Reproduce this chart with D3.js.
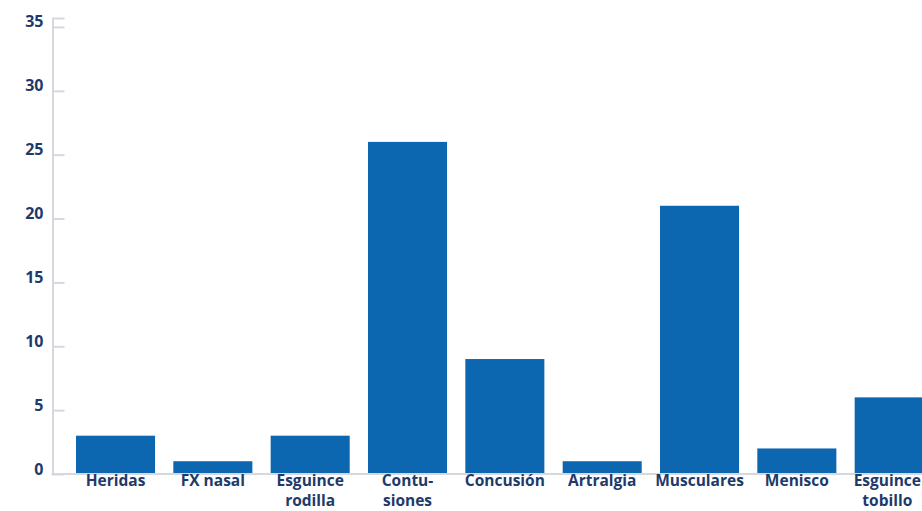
<!DOCTYPE html>
<html>
<head>
<meta charset="utf-8">
<script src="https://cdn.jsdelivr.net/npm/d3@7"></script>
<style>
  html, body { margin: 0; padding: 0; background: #ffffff; overflow: hidden; }
  svg { display: block; }
  text { font-family: "Open Sans", Lato, sans-serif; font-weight: 700; fill: #1d3a6a; }
</style>
</head>
<body>
<svg id="chart" width="922" height="511"></svg>
<script>
// Injury types (line breaks marked with "\n")
const categories = [
  "Heridas",
  "FX nasal",
  "Esguince\nrodilla",
  "Contu-\nsiones",
  "Concusión",
  "Artralgia",
  "Musculares",
  "Menisco",
  "Esguince\ntobillo"
];
// Number of cases per injury type
const cases = [3, 1, 3, 26, 9, 1, 21, 2, 6];
// Y axis tick values
const yTicks = [0, 5, 10, 15, 20, 25, 30, 35];

const width = 922;
const svg = d3.select("#chart");
const barColor = "#0d67b0";
const axisColor = "#d6d8de";
const fontStack = "'Open Sans', Lato, sans-serif";

const y = d3.scaleLinear().domain([0, 35.7]).range([474, 18]);

const x = d3.scaleBand()
  .domain(categories)
  .range([66.85, 942.85])
  .paddingInner(0.188)
  .paddingOuter(0.094);

// Bars
svg.append("g")
  .selectAll("rect")
  .data(categories)
  .join("rect")
  .attr("x", d => x(d))
  .attr("width", x.bandwidth())
  .attr("y", (d, i) => y(cases[i]))
  .attr("height", (d, i) => y(0) - y(cases[i]))
  .attr("fill", barColor);

// Y axis: line on the left, ticks pointing into the plot
const yAxis = svg.append("g")
  .attr("transform", "translate(52.5,0)")
  .call(d3.axisRight(y).tickValues(yTicks).tickSize(12).tickFormat(d3.format("d")));
yAxis.select(".domain").attr("stroke", axisColor).attr("stroke-width", 2);
yAxis.selectAll(".tick line").attr("stroke", axisColor).attr("stroke-width", 2);
yAxis.selectAll(".tick text")
  .attr("x", -9)
  .attr("dy", "0")
  .attr("text-anchor", "end")
  .style("font-size", "16px")
  .style("font-family", fontStack)
  .style("font-weight", 700)
  .attr("fill", "#1d3a6a");
yAxis.selectAll(".tick").filter(d => d === 0).select("line").remove();

// X axis baseline
svg.append("line")
  .attr("x1", 51.5).attr("x2", width)
  .attr("y1", y(0)).attr("y2", y(0))
  .attr("stroke", axisColor).attr("stroke-width", 2);

// Category labels
const labels = svg.append("g")
  .selectAll("text")
  .data(categories)
  .join("text")
  .attr("x", d => x(d) + x.bandwidth() / 2)
  .attr("y", 486)
  .attr("text-anchor", "middle")
  .style("font-size", "15.5px")
  .style("font-weight", 700);
labels.selectAll("tspan")
  .data(d => d.split("\n"))
  .join("tspan")
  .attr("x", function () { return d3.select(this.parentNode).attr("x"); })
  .attr("dy", (d, i) => i === 0 ? 0 : 20)
  .text(d => d);

// Keep labels inside the right edge of the drawing
labels.each(function () {
  const t = d3.select(this);
  const box = this.getBBox();
  const overflow = box.x + box.width - (width - 1);
  if (overflow > 0) {
    const nx = +t.attr("x") - overflow;
    t.attr("x", nx);
    t.selectAll("tspan").attr("x", nx);
  }
});
</script>
</body>
</html>
